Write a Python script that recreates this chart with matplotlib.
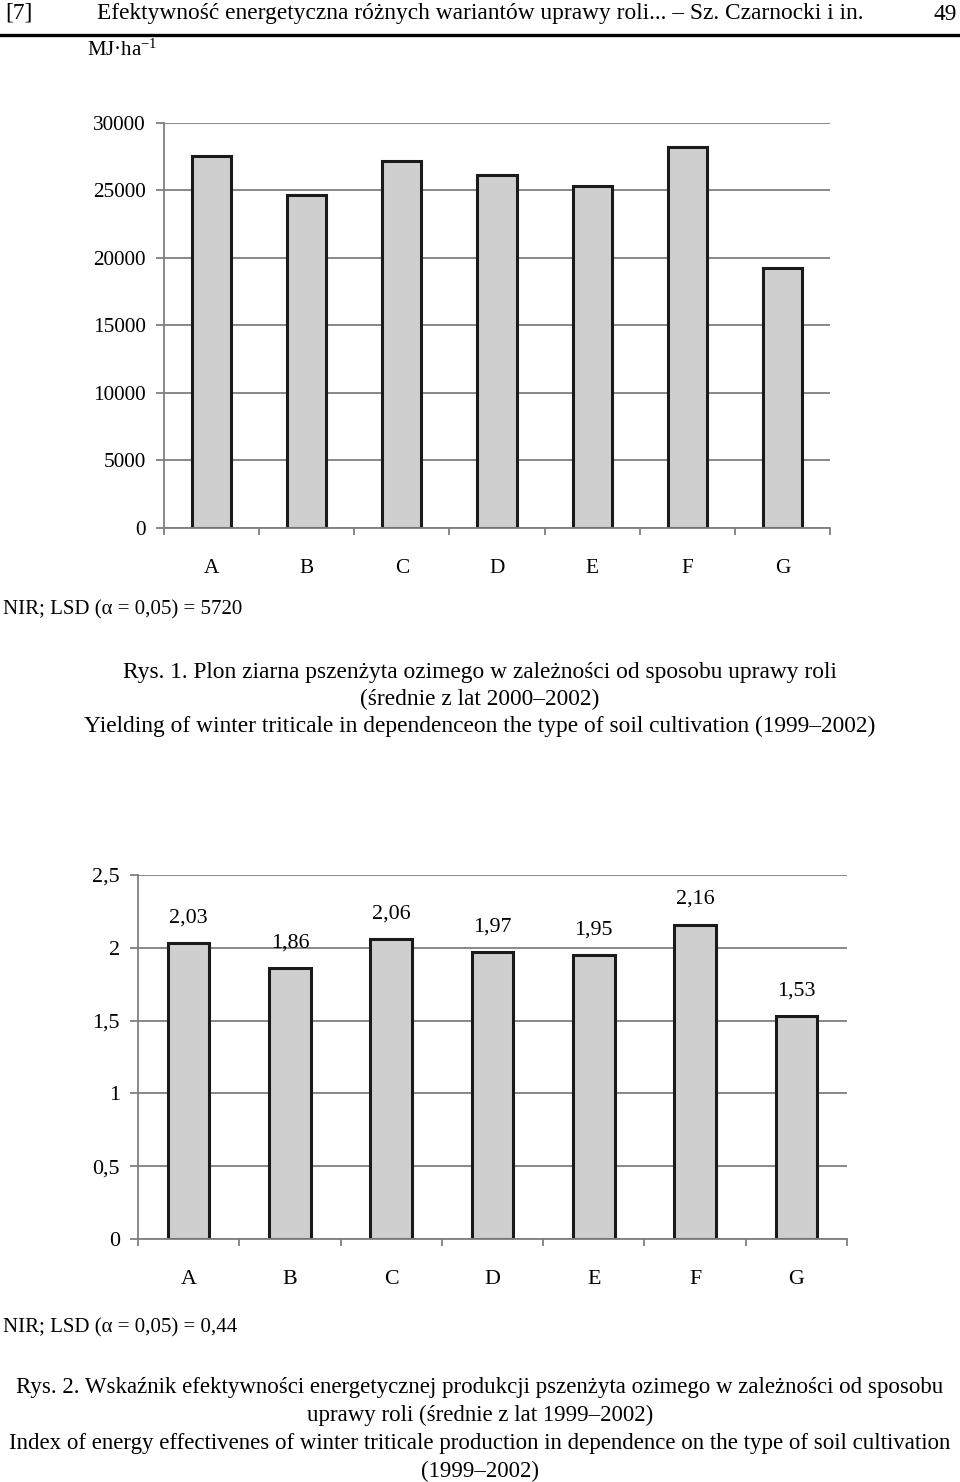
import numpy as np
import matplotlib
matplotlib.use("Agg")
import matplotlib.pyplot as plt
from matplotlib.lines import Line2D

plt.rcParams['font.family'] = ['Liberation Serif', 'DejaVu Serif']
plt.rcParams['mathtext.fontset'] = 'custom'
plt.rcParams['mathtext.rm'] = 'Liberation Serif'
plt.rcParams['mathtext.it'] = 'Liberation Serif:italic'

## Data
variants = ['A', 'B', 'C', 'D', 'E', 'F', 'G']
# Rys. 1 - grain yield energy, MJ/ha
yield_energy = [27500, 24650, 27200, 26150, 25300, 28200, 19250]
yield_ticks = [0, 5000, 10000, 15000, 20000, 25000, 30000]
# Rys. 2 - energy effectiveness index
eff_index = [2.03, 1.86, 2.06, 1.97, 1.95, 2.16, 1.53]
eff_ticks = [0, 0.5, 1, 1.5, 2, 2.5]
eff_tick_labels = ['0', '0,5', '1', '1,5', '2', '2,5']

grid_col = '#7f7f7f'
bar_col = '#cfcfcf'

W, H = 960, 1482
fig = plt.figure(figsize=(W / 100, H / 100), dpi=100)


def fx(px):
    return px / W


def fy(py):
    return 1 - py / H


def style_axes(ax, ticks, ticklabels, ylim, fs):
    n = len(variants)
    x = np.arange(n)
    ax.set_xlim(-0.5, n - 0.5)
    ax.set_ylim(*ylim)
    for s in ['top', 'right']:
        ax.spines[s].set_visible(False)
    for s in ['left', 'bottom']:
        ax.spines[s].set_color(grid_col)
        ax.spines[s].set_linewidth(1.3)
    ax.set_yticks(ticks)
    ax.set_yticklabels(ticklabels, fontsize=fs)
    ax.yaxis.grid(True, color=grid_col, linewidth=1.3)
    ax.set_axisbelow(True)
    ax.tick_params(axis='y', length=6, width=1.3, color=grid_col, pad=7)
    # boundary ticks without labels, centre labels as minor ticks
    ax.set_xticks(np.arange(n + 1) - 0.5)
    ax.set_xticklabels([])
    ax.tick_params(axis='x', which='major', length=5, width=1.3, color=grid_col)
    ax.set_xticks(x, minor=True)
    ax.set_xticklabels(variants, minor=True, fontsize=fs)
    ax.tick_params(axis='x', which='minor', length=0, pad=22)
    return x


## Header
fig.text(fx(5), fy(13), '[7]', fontsize=16.8, va='center', ha='left')
fig.text(fx(97), fy(13), 'Efektywność energetyczna różnych wariantów uprawy roli... – Sz. Czarnocki i in.',
         fontsize=16.8, va='center', ha='left')
fig.text(fx(957), fy(14), '49', fontsize=16.8, va='center', ha='right')
fig.add_artist(Line2D([0, 1], [fy(35), fy(35)], color='black', linewidth=2.4))

## Rys. 1
ax1 = fig.add_axes([fx(164), fy(528), fx(830 - 164), (528 - 122.7) / H])
x1 = style_axes(ax1, yield_ticks, [str(t) for t in yield_ticks], (0, 30000), 15.3)
ax1.bar(x1, yield_energy, width=0.41, color=bar_col, edgecolor='#1a1a1a', linewidth=2.2)
fig.text(fx(87), fy(50), 'MJ·ha$^{\\mathrm{-1}}$', fontsize=15, va='center', ha='left')
fig.text(fx(3), fy(610), 'NIR; LSD (α = 0,05) = 5720', fontsize=15, va='center', ha='left')

cap1 = ['Rys. 1. Plon ziarna pszenżyta ozimego w zależności od sposobu uprawy roli',
        '(średnie z lat 2000–2002)',
        'Yielding of winter triticale in dependenceon the type of soil cultivation (1999–2002)']
for i, line in enumerate(cap1):
    fig.text(0.5, fy(672 + 27 * i), line, fontsize=16.8, va='center', ha='center')

## Rys. 2
ax2 = fig.add_axes([fx(138), fy(1239), fx(847 - 138), (1239 - 875) / H])
x2 = style_axes(ax2, eff_ticks, eff_tick_labels, (0, 2.5), 15.8)
ax2.bar(x2, eff_index, width=0.41, color=bar_col, edgecolor='#1a1a1a', linewidth=2.2)
for xi, v in zip(x2, eff_index):
    ax2.annotate(('%.2f' % v).replace('.', ','), (xi, v), xytext=(0, 18), textcoords='offset points',
                 ha='center', va='center', fontsize=15.8)
fig.text(fx(3), fy(1328), 'NIR; LSD (α = 0,05) = 0,44', fontsize=15, va='center', ha='left')

cap2 = ['Rys. 2. Wskaźnik efektywności energetycznej produkcji pszenżyta ozimego w zależności od sposobu',
        'uprawy roli (średnie z lat 1999–2002)',
        'Index of energy effectivenes of winter triticale production in dependence on the type of soil cultivation',
        '(1999–2002)']
for i, line in enumerate(cap2):
    fig.text(0.5, fy(1387 + 28 * i), line, fontsize=16.5, va='center', ha='center')

fig.savefig('out.png', dpi=100)
